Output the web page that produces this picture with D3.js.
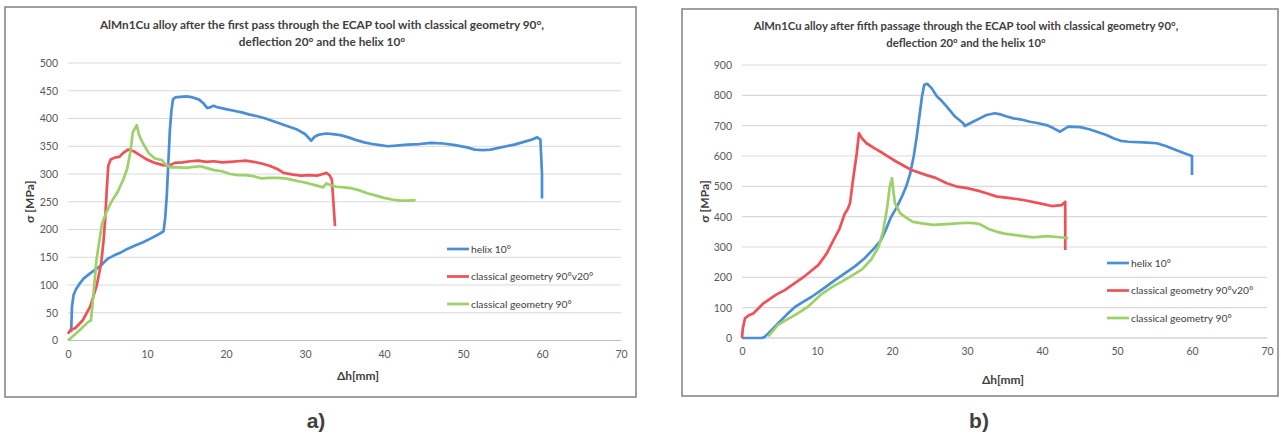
<!DOCTYPE html>
<head>
  <meta charset="utf-8">
  <script src="https://d3js.org/d3.v7.min.js"></script>
  <style>
    body { margin: 0; background: #fff; }
    svg { display: block; }
    text { font-family: Lato, "Open Sans", sans-serif; }
  </style>
</head>
<body>
  <svg width="1281" height="435"></svg>
  <script>
    // series names (legend order)
    var seriesNames = ['helix 10°', 'classical geometry 90°v20°', 'classical geometry 90°'];
    var xTicks = [0, 10, 20, 30, 40, 50, 60, 70];
    var yTicksA = [0, 50, 100, 150, 200, 250, 300, 350, 400, 450, 500];
    var yTicksB = [0, 100, 200, 300, 400, 500, 600, 700, 800, 900];

    // a) first pass  [dh mm, sigma MPa]
    var helixA = [[0.4,15],[0.5,60],[0.7,82],[1,92],[1.5,103],[2,112],[2.8,121],[3.5,128],[4,133],[4.5,140],[5.1,148],[5.8,153],[6.6,158],[7.5,165],[8.5,171],[9.5,177],[10.5,184],[11.3,190],[11.9,195],[12.1,197],[12.3,220],[12.5,260],[12.7,320],[12.9,380],[13.1,415],[13.3,435],[13.6,438],[14.2,439],[15,440],[15.8,438],[16.6,434],[17.1,428],[17.6,419],[18,420],[18.4,423],[19,420],[20,417],[21,414],[22,411],[23,407],[24,404],[25,400],[26,395],[27,390],[28,385],[29,380],[30,372],[30.8,360],[31.2,367],[31.8,371],[32.7,373],[33.5,372],[34.5,370],[35.5,366],[36.5,361],[37.5,357],[38.5,354],[39.5,352],[40.5,350],[41.5,351],[43,353],[44.5,354],[46,356],[47.5,355],[49,352],[50.5,348],[51.5,344],[52.5,343],[53.5,344],[54.5,347],[55.5,350],[56.5,353],[57.5,357],[58.5,361],[59.4,366],[59.8,362],[60,300],[60,256]];
    var geom20A = [[0,12],[0.3,19],[0.9,22],[1.9,37],[2.8,61],[3.6,97],[4.2,139],[4.5,180],[4.7,217],[4.9,270],[5.1,315],[5.4,326],[6,330],[6.5,331],[7,338],[7.6,344],[8.3,341],[9,335],[10,326],[11,320],[12,316],[12.8,315],[13.5,320],[14.5,321],[15.5,323],[16.5,324],[17.5,322],[18.5,323],[19.5,321],[20.5,322],[21.5,323],[22.5,324],[23.5,322],[24.5,319],[25.5,315],[26.5,309],[27.3,302],[28.5,299],[29.5,297],[30.5,298],[31.5,297],[32.3,300],[32.7,302],[33.1,298],[33.4,290],[33.8,206]];
    var geom90A = [[0,0],[1.5,19],[2.6,34],[2.9,36],[3.2,79],[3.6,145],[4.3,210],[4.8,229],[5.5,250],[6.3,268],[7,290],[7.5,310],[7.9,340],[8.2,375],[8.7,388],[9,370],[9.5,355],[10.2,338],[11,328],[11.9,325],[12.3,318],[13,312],[14,312],[15,311],[16,313],[16.8,314],[17.5,311],[18.5,307],[19.5,305],[20.5,300],[21.5,298],[22.5,298],[23.5,296],[24.5,292],[25.5,293],[26.5,293],[27.5,292],[28.5,289],[29.5,286],[30.5,283],[31.5,279],[32.3,276],[32.7,283],[33.2,280],[34,277],[35,276],[36,274],[37,270],[38,265],[39,261],[40,257],[41,254],[42,252],[43,252],[44,253]];

    // b) fifth passage
    var helixB = [[0,0],[1,0],[2.6,0],[3,3],[3.5,15],[4.8,48],[6,78],[7.1,103],[8.2,120],[9.3,136],[10.8,162],[12.4,191],[13.8,215],[15.1,237],[16.4,264],[17.7,298],[18.5,322],[19.1,352],[19.8,395],[20.6,430],[21.3,465],[21.9,500],[22.4,540],[22.9,600],[23.3,664],[23.7,740],[24,796],[24.3,835],[24.7,838],[25.3,823],[26,796],[26.5,785],[27.3,763],[28.4,730],[29.5,708],[29.7,699],[30.8,713],[31.7,724],[32.6,735],[33.7,741],[34.5,737],[35.3,730],[36.2,724],[37.1,721],[38.4,713],[39.5,708],[40.6,702],[41.5,692],[42.4,680],[42.9,688],[43.5,697],[45.1,695],[46.3,688],[47.3,680],[48.5,670],[49.6,658],[50.5,650],[51.5,647],[53.5,645],[55.3,642],[56.5,633],[57.6,622],[58.8,611],[60,600],[60,537]];
    var geom20B = [[0,0],[0.1,30],[0.4,65],[1,76],[1.5,81],[2.2,98],[2.8,113],[3.5,125],[4.5,142],[5.7,158],[6.8,177],[8,197],[9,217],[10.2,241],[11.3,279],[12.2,323],[13,360],[13.7,410],[14.1,425],[14.4,444],[14.8,521],[15.3,609],[15.6,675],[16,658],[16.6,642],[17.7,625],[18.8,609],[20.6,581],[22.6,554],[24.6,537],[25.8,528],[27.3,510],[28.5,500],[30,494],[31.7,484],[32.6,477],[34,466],[35.5,462],[37.5,455],[39.7,444],[41.3,435],[42.6,438],[43.1,449],[43.1,290]];
    var geom90B = [[3.5,5],[4.8,43],[5.8,58],[7.1,76],[8.8,103],[10.6,145],[12,168],[13.3,186],[14.6,205],[16,226],[17.2,258],[18.2,300],[18.8,350],[19.3,420],[19.7,499],[20,527],[20.2,480],[20.4,444],[21.1,411],[22,395],[22.8,383],[24,378],[25.5,373],[27.7,376],[30,380],[31.2,378],[31.7,375],[33,358],[34,350],[35,344],[36.2,340],[37.5,336],[38.8,332],[40.6,336],[42,333],[43.5,329]];

    var colors = ['#4a8fd6', '#ef5159', '#9cd16a'];
    var svg = d3.select('svg');

    function panel(cfg) {
      var g = svg.append('g');
      g.append('rect')
        .attr('x', cfg.box[0]).attr('y', cfg.box[1])
        .attr('width', cfg.box[2]).attr('height', cfg.box[3])
        .attr('fill', '#fff').attr('stroke', '#808080').attr('stroke-width', 1.5);

      var x = d3.scaleLinear().domain([0, 70]).range([cfg.left, cfg.right]);
      var y = d3.scaleLinear().domain([0, cfg.yMax]).range([cfg.bottom, cfg.top]);

      // gridlines
      g.selectAll('.grid').data(cfg.yTicks).enter().append('line')
        .attr('x1', cfg.left).attr('x2', cfg.right)
        .attr('y1', function (d) { return y(d); })
        .attr('y2', function (d) { return y(d); })
        .attr('stroke', function (d) { return d === 0 ? '#bfbfbf' : '#d9d9d9'; })
        .attr('stroke-width', 1.2);

      var yAxis = d3.axisLeft(y).tickValues(cfg.yTicks).tickSize(0).tickPadding(10);
      var xAxis = d3.axisBottom(x).tickValues(xTicks).tickSize(0).tickPadding(10);
      var ya = g.append('g').attr('transform', 'translate(' + cfg.left + ',0)').call(yAxis);
      var xa = g.append('g').attr('transform', 'translate(0,' + cfg.bottom + ')').call(xAxis);
      [ya, xa].forEach(function (a) {
        a.select('.domain').remove();
        a.selectAll('text').attr('fill', '#595959').style('font-size', '10.5px')
          .style('font-family', 'Lato, sans-serif');
      });

      // curves
      var line = d3.line().x(function (d) { return x(d[0]); }).y(function (d) { return y(d[1]); });
      cfg.series.forEach(function (s, i) {
        g.append('path').datum(s).attr('d', line)
          .attr('fill', 'none').attr('stroke', colors[i])
          .attr('stroke-width', 2.7).attr('stroke-linejoin', 'round');
      });

      // titles
      var t = g.append('text').attr('x', cfg.titleX).attr('y', cfg.titleY)
        .attr('text-anchor', 'middle').attr('fill', '#404040')
        .style('font-size', cfg.titleSize).style('font-weight', 'bold');
      cfg.title.forEach(function (l, i) {
        t.append('tspan').attr('x', cfg.titleX).attr('dy', i ? 17 : 0).text(l);
      });

      g.append('text')
        .attr('transform', 'translate(' + cfg.yLabelX + ',' + ((cfg.top + cfg.bottom) / 2) + ') rotate(-90)')
        .attr('text-anchor', 'middle').attr('fill', '#404040')
        .style('font-size', '12px').style('font-weight', 'bold').text('σ [MPa]');
      g.append('text').attr('x', cfg.xLabelX).attr('y', cfg.xLabelY)
        .attr('text-anchor', 'middle').attr('fill', '#404040')
        .style('font-size', '12px').style('font-weight', 'bold').text('Δh[mm]');

      // legend
      seriesNames.forEach(function (n, i) {
        var ly = cfg.legY + i * 27.5;
        g.append('line').attr('x1', cfg.legX).attr('x2', cfg.legX + 22)
          .attr('y1', ly).attr('y2', ly).attr('stroke', colors[i]).attr('stroke-width', 2.7);
        g.append('text').attr('x', cfg.legX + 24).attr('y', ly + 3.5)
          .attr('fill', '#404040').style('font-size', '10.3px').text(n);
      });

      svg.append('text').attr('x', cfg.tagX).attr('y', 428)
        .attr('text-anchor', 'middle').attr('fill', '#404040')
        .style('font-family', '"Liberation Sans", Arial, sans-serif')
        .style('font-size', '21px').style('font-weight', 'bold').text(cfg.tag);
    }

    panel({
      box: [5, 7, 631, 390], left: 68, right: 621, top: 63, bottom: 340.5, yMax: 500, yTicks: yTicksA,
      series: [helixA, geom20A, geom90A],
      title: ['AlMn1Cu alloy after the first pass through the ECAP tool  with classical geometry 90°,', 'deflection 20° and the helix 10°'],
      titleSize: '11.8px',
      titleX: 322, titleY: 29, yLabelX: 34, xLabelX: 358, xLabelY: 380,
      legX: 447, legY: 249, tag: 'a)', tagX: 316
    });
    panel({
      box: [682, 9, 596, 387], left: 742, right: 1267, top: 65, bottom: 338, yMax: 900, yTicks: yTicksB,
      series: [helixB, geom20B, geom90B],
      title: ['AlMn1Cu alloy after fifth passage through the ECAP tool with classical geometry 90°,', 'deflection 20° and the helix 10°'],
      titleSize: '11.3px',
      titleX: 966, titleY: 30, yLabelX: 709, xLabelX: 1003, xLabelY: 384,
      legX: 1107, legY: 263, tag: 'b)', tagX: 979
    });
  </script>
</body>
